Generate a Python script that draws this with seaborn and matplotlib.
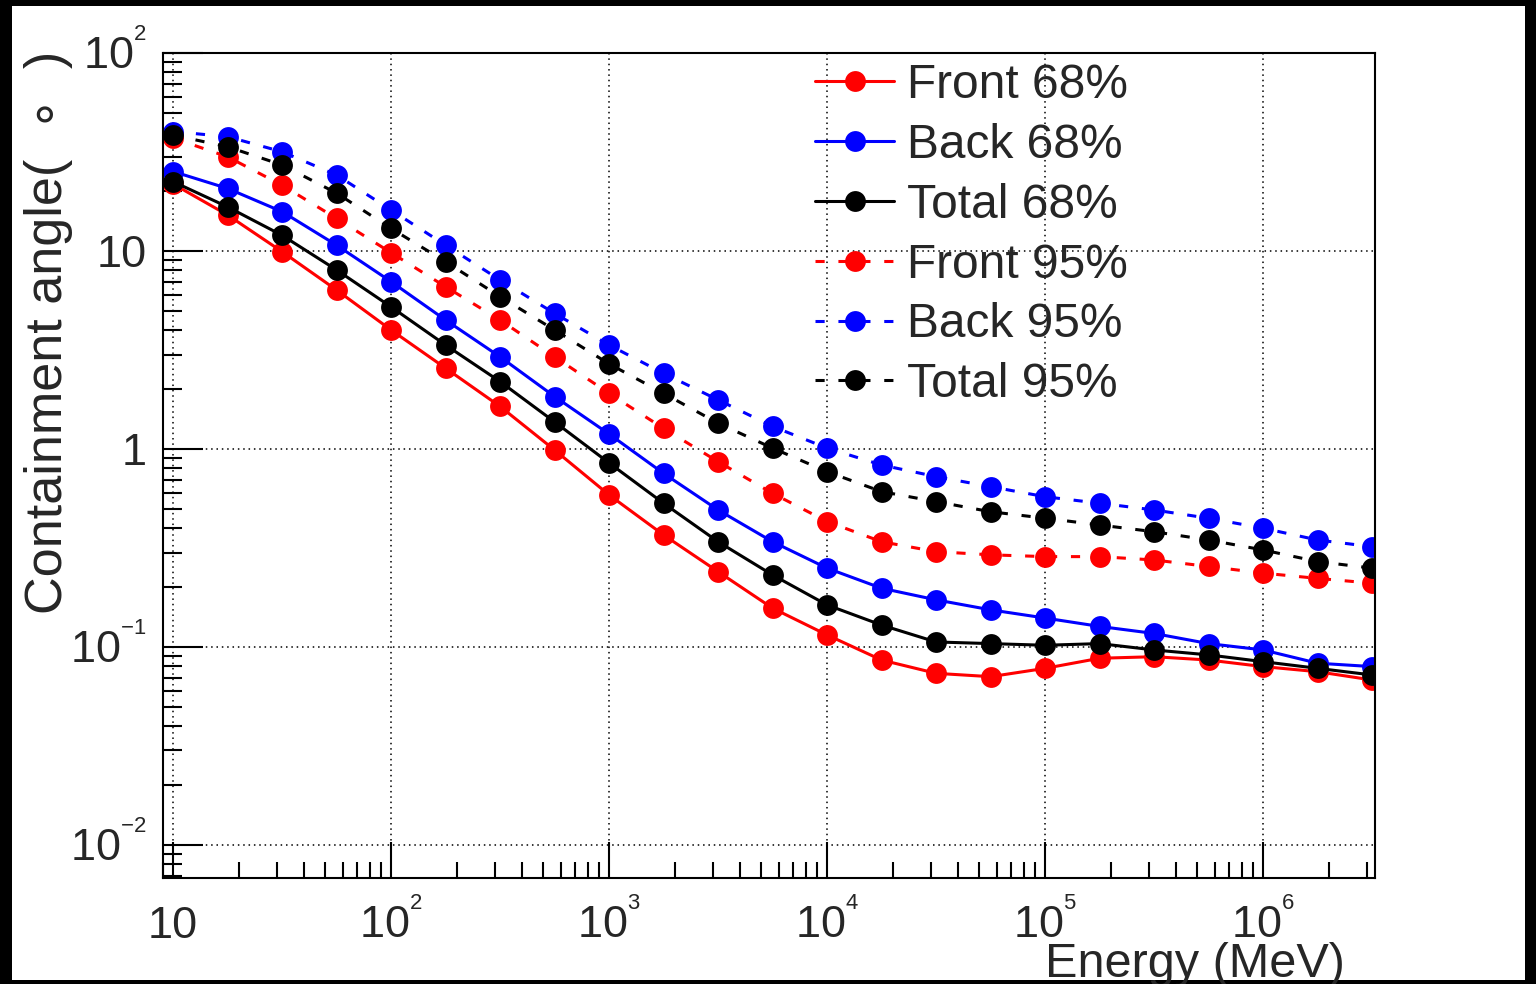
import numpy as np
import matplotlib.pyplot as plt
import matplotlib.ticker as mticker
from matplotlib.patches import Rectangle
from matplotlib.transforms import ScaledTranslation
import seaborn as sns

# energies (MeV), a quarter decade apart
energy = [10, 17.78, 31.62, 56.23, 100, 177.8, 316.2, 562.3, 1000, 1778, 3162, 5623,
          1.0e4, 1.778e4, 3.162e4, 5.623e4, 1.0e5, 1.778e5, 3.162e5, 5.623e5,
          1.0e6, 1.778e6, 3.162e6]

# containment angles (deg)
front68 = [21.8, 15.2, 9.92, 6.35, 3.99, 2.56, 1.64, 0.988, 0.586, 0.368, 0.240, 0.157,
           0.115, 0.0859, 0.0736, 0.0708, 0.0780, 0.0877, 0.0893, 0.0859, 0.0796, 0.0750, 0.0681]
back68 = [25.2, 20.7, 15.8, 10.7, 7.0, 4.48, 2.92, 1.84, 1.19, 0.753, 0.492, 0.340,
          0.250, 0.198, 0.173, 0.154, 0.140, 0.127, 0.117, 0.104, 0.0966, 0.0828, 0.0796]
total68 = [22.4, 16.7, 12.0, 8.02, 5.22, 3.35, 2.19, 1.37, 0.850, 0.532, 0.340, 0.231,
           0.163, 0.129, 0.106, 0.104, 0.102, 0.104, 0.0966, 0.0912, 0.0843, 0.0780, 0.0722]
front95 = [37.2, 29.9, 21.5, 14.6, 9.80, 6.60, 4.48, 2.92, 1.91, 1.27, 0.863, 0.597,
           0.430, 0.340, 0.303, 0.292, 0.286, 0.286, 0.275, 0.255, 0.236, 0.222, 0.210]
back95 = [40.1, 37.8, 31.7, 24.2, 16.1, 10.7, 7.14, 4.84, 3.35, 2.41, 1.77, 1.30,
          1.01, 0.830, 0.725, 0.645, 0.574, 0.532, 0.492, 0.447, 0.398, 0.347, 0.321]
total95 = [38.5, 33.6, 27.2, 19.6, 13.0, 8.83, 5.88, 3.99, 2.69, 1.91, 1.35, 1.01,
           0.768, 0.609, 0.542, 0.482, 0.447, 0.413, 0.382, 0.347, 0.309, 0.270, 0.250]

series_names = ["Front 68%", "Back 68%", "Total 68%", "Front 95%", "Back 95%", "Total 95%"]
series_colors = ["#ff0000", "#0000ff", "#000000", "#ff0000", "#0000ff", "#000000"]

xticks = [10, 1e2, 1e3, 1e4, 1e5, 1e6]
xtick_labels = ["10", r"$\mathregular{10^{{}^{2}}}$", r"$\mathregular{10^{{}^{3}}}$",
                r"$\mathregular{10^{{}^{4}}}$", r"$\mathregular{10^{{}^{5}}}$",
                r"$\mathregular{10^{{}^{6}}}$"]
yticks = [0.01, 0.1, 1, 10, 100]
ytick_labels = [r"$\mathregular{10^{{}^{-2}}}$", r"$\mathregular{10^{{}^{-1}}}$", "1", "10",
                r"$\mathregular{10^{{}^{2}}}$"]

sns.set_style("ticks")
plt.rcParams["font.family"] = ["Liberation Sans", "DejaVu Sans"]
plt.rcParams["mathtext.fontset"] = "custom"
plt.rcParams["mathtext.rm"] = "Liberation Sans"
plt.rcParams["mathtext.it"] = "Liberation Sans:italic"

W, H = 1536, 984
fig = plt.figure(figsize=(W / 100, H / 100), dpi=100, facecolor="black")
# white canvas inside the black border
fig.patches.append(Rectangle((12 / W, 1 - 980 / H), (1525 - 12) / W, (980 - 6) / H,
                             transform=fig.transFigure, facecolor="white",
                             edgecolor="none", zorder=-10))
ax = fig.add_axes([163 / W, 1 - 878 / H, 1212 / W, 825 / H])
ax.set_facecolor("white")

all_vals = [front68, back68, total68, front95, back95, total95]
for i, (name, vals, col) in enumerate(zip(series_names, all_vals, series_colors)):
    ls = "-" if i < 3 else (0, (3, 4.5))
    sns.lineplot(x=energy, y=vals, ax=ax, color=col, linestyle=ls, linewidth=2.2,
                 marker="o", markersize=15, markeredgewidth=0, label=name)

ax.set_xscale("log")
ax.set_yscale("log")
ax.set_xlim(8.99, 3.26e6)
ax.set_ylim(0.00681, 100)

ax.set_xticks(xticks, labels=xtick_labels)
ax.set_yticks(yticks, labels=ytick_labels)
ax.xaxis.set_minor_locator(mticker.LogLocator(base=10, subs=np.arange(2, 10), numticks=50))
ax.yaxis.set_minor_locator(mticker.LogLocator(base=10, subs=np.arange(2, 10), numticks=50))
ax.xaxis.set_minor_formatter(mticker.NullFormatter())
ax.yaxis.set_minor_formatter(mticker.NullFormatter())

ax.tick_params(which="both", direction="in", top=False, right=False, width=1.5, color="black")
ax.tick_params(axis="x", which="major", length=26, labelsize=32.5, pad=43)
ax.tick_params(axis="x", which="minor", length=11.5)
ax.tick_params(axis="y", which="major", length=29, labelsize=32.5, pad=11.5)
ax.tick_params(axis="y", which="minor", length=13.7)

for lbl in ax.get_xticklabels():
    lbl.set_verticalalignment("baseline")
shift = ScaledTranslation(0, -16 / 100, fig.dpi_scale_trans)
for lbl in ax.get_yticklabels():
    lbl.set_verticalalignment("baseline")
    lbl.set_transform(lbl.get_transform() + shift)

for sp in ax.spines.values():
    sp.set_linewidth(1.5)
    sp.set_color("black")

ax.grid(True, which="major", color="black", linestyle=(0, (1, 2.5)), linewidth=1.1)

ax.set_ylabel("Containment angle(  \u2218  )", fontsize=37.5, loc="top")
ax.yaxis.set_label_coords(-0.0745, 1.003)
ax.set_xlabel("Energy (MeV)", fontsize=35, loc="right")
ax.xaxis.set_label_coords(0.975, -0.077)

ax.legend(loc="upper left", bbox_to_anchor=((815 - 163) / 1212, (878 - 63) / 825),
          frameon=False, fontsize=34.5, handlelength=1.65, handletextpad=0.28,
          labelspacing=0.31, borderpad=0, borderaxespad=0)

plt.savefig("out.png", dpi=100, facecolor=fig.get_facecolor())
